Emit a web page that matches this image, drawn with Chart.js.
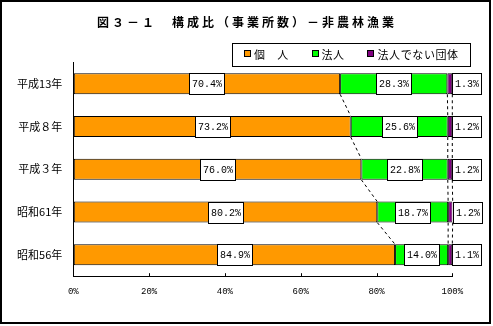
<!DOCTYPE html>
<html lang="ja">
<head>
<meta charset="utf-8">
<script src="https://cdn.jsdelivr.net/npm/chart.js@4.4.0/dist/chart.umd.min.js"></script>
<style>
  html, body { margin: 0; padding: 0; background: #fff; }
  #grafico { display: block; }
</style>
</head>
<body>
<canvas id="grafico" width="493" height="326"></canvas>
<script>
// 構成比（事業所数）
const categorias = ['平成13年', '平成８年', '平成３年', '昭和61年', '昭和56年'];
const kojin = [70.4, 73.2, 76.0, 80.2, 84.9];
const hojin = [28.3, 25.6, 22.8, 18.7, 14.0];
const dantai = [1.3, 1.2, 1.2, 1.2, 1.1];
const marcasX = [0, 20, 40, 60, 80, 100];
const series = ['個　人', '法人', '法人でない団体'];
const colores = ['#FF9900', '#00FF00', '#800080'];
const titulo = '図３－１　構成比（事業所数）－非農林漁業';

const fuenteJP = '"Noto Sans CJK JP", "Noto Sans", sans-serif';
const fuenteNum = '"Liberation Mono", "DejaVu Sans Mono", monospace';

// Posiciones de la leyenda (cuadro + texto por serie)
const leyendaCaja = { x: 232.5, y: 43.5, w: 238, h: 23 };
const leyendaItems = [
  { cuadro: 244.5, texto: 254 },
  { cuadro: 312.5, texto: 321.5 },
  { cuadro: 367.5, texto: 377.5 }
];

const dibujoExtra = {
  id: 'dibujoExtra',
  afterDatasetsDraw(chart) {
    const ctx = chart.ctx;
    const metas = chart.data.datasets.map((_, i) => chart.getDatasetMeta(i));

    // líneas de serie (discontinuas) entre barras
    ctx.save();
    ctx.strokeStyle = '#000';
    ctx.lineWidth = 1;
    ctx.setLineDash([3, 3]);
    metas.forEach(meta => {
      for (let i = 0; i < meta.data.length - 1; i++) {
        const a = meta.data[i];
        const b = meta.data[i + 1];
        ctx.beginPath();
        ctx.moveTo(a.x, a.y + a.height / 2);
        ctx.lineTo(b.x, b.y - b.height / 2);
        ctx.stroke();
      }
    });
    ctx.restore();

    // etiquetas de valor en recuadro blanco
    ctx.save();
    ctx.font = '10px ' + fuenteNum;
    ctx.textBaseline = 'middle';
    ctx.textAlign = 'center';
    metas.forEach((meta, d) => {
      const valores = chart.data.datasets[d].data;
      meta.data.forEach((el, i) => {
        const texto = valores[i].toFixed(1) + '%';
        const w = Math.round(ctx.measureText(texto).width) + 5;
        const h = Math.round(el.height);
        let cx;
        if (d === metas.length - 1) {
          cx = el.x + w / 2;
        } else {
          cx = (el.base + el.x) / 2;
        }
        const x0 = Math.round(cx - w / 2) + 0.5;
        const y0 = Math.round(el.y - h / 2) + 0.5;
        ctx.fillStyle = '#fff';
        ctx.fillRect(x0, y0, w, h);
        ctx.strokeStyle = '#000';
        ctx.lineWidth = 1;
        ctx.strokeRect(x0, y0, w, h);
        ctx.fillStyle = '#000';
        ctx.fillText(texto, x0 + w / 2, y0 + h / 2 + 0.5);
      });
    });
    ctx.restore();
  },
  afterDraw(chart) {
    const ctx = chart.ctx;
    const area = chart.chartArea;
    const escalaX = chart.scales.x;

    ctx.save();
    // marcas interiores del eje X
    ctx.strokeStyle = '#000';
    ctx.lineWidth = 1;
    marcasX.forEach(v => {
      const px = Math.round(escalaX.getPixelForValue(v)) + 0.5;
      ctx.beginPath();
      ctx.moveTo(px, area.bottom);
      ctx.lineTo(px, area.bottom - 3);
      ctx.stroke();
    });

    // título
    ctx.fillStyle = '#000';
    ctx.font = 'bold 12px ' + fuenteJP;
    ctx.textBaseline = 'middle';
    ctx.textAlign = 'left';
    ctx.letterSpacing = '3px';
    ctx.fillText(titulo, 97, 22);

    // leyenda
    ctx.letterSpacing = '0.6px';
    ctx.font = '11px ' + fuenteJP;
    ctx.strokeRect(leyendaCaja.x, leyendaCaja.y, leyendaCaja.w, leyendaCaja.h);
    leyendaItems.forEach((it, i) => {
      ctx.fillStyle = colores[i];
      ctx.fillRect(it.cuadro, 50.5, 6, 6);
      ctx.strokeRect(it.cuadro, 50.5, 6, 6);
      ctx.fillStyle = '#000';
      ctx.fillText(series[i], it.texto, 54.5);
    });

    // marco exterior
    ctx.letterSpacing = '0px';
    ctx.lineWidth = 2;
    ctx.strokeRect(1, 1, 489, 322);
    ctx.restore();
  }
};

new Chart(document.getElementById('grafico'), {
  type: 'bar',
  data: {
    labels: categorias,
    datasets: [kojin, hojin, dantai].map((valores, i) => ({
      label: series[i],
      data: valores,
      backgroundColor: colores[i],
      borderColor: '#000',
      borderWidth: 1,
      borderSkipped: false,
      barPercentage: 0.49,
      categoryPercentage: 1
    }))
  },
  options: {
    indexAxis: 'y',
    responsive: false,
    animation: false,
    layout: { padding: { top: 62.4, right: 40.7, bottom: 0, left: 0 } },
    plugins: {
      legend: { display: false },
      title: { display: false },
      tooltip: { enabled: false }
    },
    scales: {
      x: {
        stacked: true,
        min: 0,
        max: 100,
        afterFit(scale) { scale.height = 49.8; },
        grid: { drawOnChartArea: false, drawTicks: false },
        border: { display: true, color: '#000', width: 1 },
        ticks: {
          stepSize: 20,
          padding: 10,
          color: '#000',
          font: { family: fuenteNum, size: 9 },
          callback: v => v + '%'
        }
      },
      y: {
        stacked: true,
        afterFit(scale) { scale.width = 73.3; },
        grid: { drawOnChartArea: false, drawTicks: false },
        border: { display: true, color: '#000', width: 1 },
        ticks: {
          padding: 11,
          color: '#000',
          font: { family: fuenteJP, size: 11 }
        }
      }
    }
  },
  plugins: [dibujoExtra]
});
</script>
</body>
</html>
